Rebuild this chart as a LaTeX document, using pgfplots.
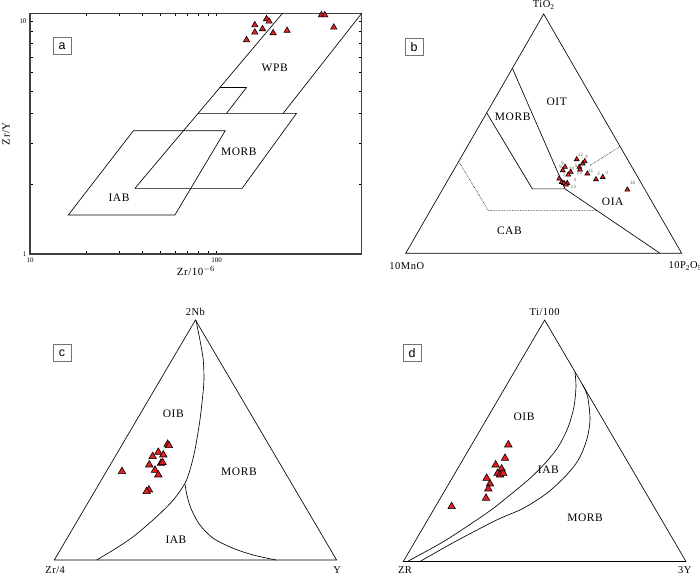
\documentclass[border=0pt]{standalone}
\usepackage{fontspec}
\setmainfont{Liberation Serif}
\setsansfont{Liberation Sans}
\newfontfamily\wide[LetterSpace=5]{Liberation Serif}
\usepackage{pgfplots}
\pgfplotsset{compat=1.18}
\definecolor{tri}{RGB}{226,32,36}
\pgfplotsset{
  tern/.style={scale only axis, hide axis, clip=false, anchor=south west,
    xmin=0, xmax=1, ymin=0, ymax=0.866},
  bnd/.style={black, line width=0.65pt, no marks},
  pts/.style={only marks, mark=triangle*, mark size=#1,
    mark options={fill=tri, draw=black, line width=0.6pt}},
}
\newcommand{\fld}{\wide\fontsize{11.5}{12}\selectfont}
\newcommand{\vtx}{\wide\fontsize{10.5}{12}\selectfont}
\begin{document}
\begin{tikzpicture}
\path[use as bounding box] (0bp,0bp) rectangle (700bp,-575bp);

% ---------------- panel a ----------------
\begin{axis}[at={(30bp,-254bp)}, anchor=south west, scale only axis,
  width=331.7bp, height=240.7bp,
  xmode=log, ymode=log, xmin=10, xmax=600, ymin=1, ymax=10.8,
  xtick={10,100}, xticklabels={10,100}, ytick={1,10}, yticklabels={1,10},
  minor xtick={}, minor ytick={},
  tick align=inside, major tick length=3bp,
  tick style={black, line width=0.6pt},
  axis line style={line width=1.1pt, black!75},
  /pgf/number format/assume math mode=true,
  ticklabel style={font=\fontsize{7}{8}\selectfont},
  xlabel={Zr/10$^{-6}$}, ylabel={Zr/Y},
  label style={font=\wide\fontsize{11}{12}\selectfont},
  xlabel style={yshift=3bp}, ylabel style={yshift=3bp},
  clip=false]
\addplot[bnd] coordinates {(36.5,1.914) (225.7,10.8)};
\addplot[bnd] coordinates {(36.5,1.914) (137.1,1.914) (268.3,4.016) (79.7,4.016)};
\addplot[bnd] coordinates {(227.5,4.016) (600,10.8)};
\addplot[bnd] coordinates {(104.2,5.19) (144.8,5.19) (113.1,4.016)};
\addplot[bnd] coordinates {(16.04,1.47) (59.8,1.47) (111.2,3.38) (35.8,3.38)} -- cycle;
\addplot[pts=3.6bp] table {
x y
144.8 8.30
160.4 9.62
160.4 8.95
176.3 9.25
185.3 10.21
191.3 9.98
201.0 8.89
238.8 9.10
365.0 10.62
380.0 10.62
425.0 9.40
};
\node[font=\fld] at (axis cs:205,6.27) {WPB};
\node[font=\fld] at (axis cs:131.6,2.75) {MORB};
\node[font=\fld] at (axis cs:30,1.75) {IAB};
\end{axis}
\node[draw=black!55, line width=0.6pt, minimum width=18bp, minimum height=16.5bp, inner sep=0pt,
  font=\sffamily\fontsize{12.5}{13}\selectfont] at (62bp,-46bp) {a};

% ---------------- panel b ----------------
\begin{axis}[tern, at={(405.7bp,-253.3bp)}, width=276bp, height=239.3bp]
\addplot[bnd] coordinates {(0,0) (1,0) (0.5,0.866)} -- cycle;
\addplot[bnd] coordinates {(0.3865,0.6695) (0.5773,0.2331)};
\addplot[bnd] coordinates {(0.2935,0.5084) (0.4589,0.2331) (0.5773,0.2331) (0.9215,0)};
\addplot[black, line width=0.6pt, densely dotted, no marks] coordinates {(0.192,0.3326) (0.2995,0.1546) (0.6932,0.1546)};
\addplot[black, line width=0.6pt, densely dotted, no marks] coordinates {(0.668,0.318) (0.7766,0.3866)};
\addplot[pts=2.8bp] table {
x y
0.6196 0.3400
0.6413 0.3245
0.6486 0.3328
0.5772 0.3122
0.5688 0.3002
0.6290 0.3122
0.5978 0.2941
0.5891 0.2846
0.6315 0.3027
0.6580 0.2883
0.6895 0.2676
0.7138 0.2759
0.5565 0.2701
0.5652 0.2578
0.5736 0.2542
0.5855 0.2542
0.5808 0.2484
0.8029 0.2303
};
\begin{scope}[every node/.style={font=\sffamily\fontsize{4.8}{5}\selectfont, text=black!55, inner sep=0pt}]
\node at (axis cs:0.634,0.3562) {12};
\node at (axis cs:0.6558,0.3478) {8};
\node at (axis cs:0.5688,0.3261) {6};
\node at (axis cs:0.5616,0.3116) {9};
\node at (axis cs:0.6014,0.3043) {10};
\node at (axis cs:0.6180,0.3180) {5};
\node at (axis cs:0.629,0.292) {15};
\node at (axis cs:0.6703,0.2993) {11};
\node at (axis cs:0.6993,0.2862) {2};
\node at (axis cs:0.7283,0.292) {3};
\node at (axis cs:0.5736,0.2837) {7};
\node at (axis cs:0.5529,0.2754) {1};
\node at (axis cs:0.6134,0.2656) {4};
\node at (axis cs:0.6073,0.2391) {13};
\node at (axis cs:0.8225,0.2536) {16};
\end{scope}
\node[font=\fld] at (axis cs:0.547,0.5495) {OIT};
\node[font=\fld] at (axis cs:0.3877,0.4928) {MORB};
\node[font=\fld] at (axis cs:0.75,0.187) {OIA};
\node[font=\fld] at (axis cs:0.3756,0.0821) {CAB};
\node[font=\vtx, above=1bp] at (axis cs:0.5,0.866) {TiO\textsubscript{2}};
\node[font=\vtx] at (axis cs:0.004,-0.046) {10MnO};
\node[font=\vtx, anchor=west] at (axis cs:0.94,-0.046) {10P\textsubscript{2}O\textsubscript{5}};
\end{axis}
\node[draw=black!55, line width=0.6pt, minimum width=18bp, minimum height=16.5bp, inner sep=0pt,
  font=\sffamily\fontsize{12.5}{13}\selectfont] at (414bp,-47bp) {b};

% ---------------- panel c ----------------
\begin{axis}[tern, at={(54.3bp,-560bp)}, width=282.3bp, height=240bp]
\addplot[bnd] coordinates {(0,0) (1,0) (0.5,0.866)} -- cycle;
\addplot[bnd, smooth] coordinates {(0.5018,0.866) (0.5041,0.854) (0.5159,0.7938) (0.5277,0.7217)
  (0.5301,0.6495) (0.5254,0.5894) (0.5159,0.5052) (0.4982,0.3969) (0.4805,0.3248)
  (0.4628,0.2766) (0.4215,0.2165) (0.3625,0.1564) (0.2798,0.0842) (0.209,0.0361) (0.15,0)};
\addplot[bnd, smooth] coordinates {(0.4628,0.2742) (0.4711,0.2285) (0.4864,0.1804) (0.5159,0.1263)
  (0.5632,0.0782) (0.634,0.0421) (0.7048,0.018) (0.7851,0)};
\addplot[pts=4.3bp] table {
x y
0.4014 0.4180
0.4061 0.4132
0.3684 0.3891
0.3483 0.3735
0.3861 0.3795
0.3365 0.3434
0.3778 0.3494
0.3837 0.3518
0.3566 0.3242
0.3684 0.3073
0.2397 0.3194
0.3353 0.2532
0.3270 0.2472
};
\node[font=\fld] at (axis cs:0.4215,0.5268) {OIB};
\node[font=\fld] at (axis cs:0.654,0.3187) {MORB};
\node[font=\fld] at (axis cs:0.4309,0.0746) {IAB};
\node[font=\vtx, above=1bp] at (axis cs:0.5,0.866) {2Nb};
\node[font=\vtx] at (axis cs:0.003,-0.036) {Zr/4};
\node[font=\vtx] at (axis cs:1.002,-0.036) {Y};
\end{axis}
\node[draw=black!55, line width=0.6pt, minimum width=18bp, minimum height=16.5bp, inner sep=0pt,
  font=\sffamily\fontsize{12.5}{13}\selectfont] at (62bp,-353bp) {c};

% ---------------- panel d ----------------
\begin{axis}[tern, at={(403.3bp,-561.5bp)}, width=282.7bp, height=241.5bp]
\addplot[bnd] coordinates {(0,0) (1,0) (0.5,0.866)} -- cycle;
\addplot[bnd, smooth] coordinates {(0.6073,0.6802) (0.6108,0.627) (0.6038,0.5552) (0.5837,0.4835)
  (0.5483,0.4118) (0.5012,0.352) (0.4481,0.2982) (0.3774,0.2385) (0.3184,0.1907)
  (0.2594,0.1488) (0.1415,0.0711) (0.0142,0)};
\addplot[bnd, smooth] coordinates {(0.6344,0.6331) (0.6521,0.5911) (0.6604,0.5074) (0.6486,0.4357)
  (0.6191,0.364) (0.5719,0.3042) (0.5071,0.2444) (0.4245,0.1907) (0.3302,0.1488)
  (0.1828,0.0711) (0.059,0)};
\addplot[pts=4.3bp] table {
x y
0.3715 0.4184
0.3597 0.3705
0.3267 0.3466
0.3479 0.3323
0.3337 0.3167
0.3420 0.3107
0.3538 0.3167
0.2948 0.2988
0.3066 0.2785
0.3007 0.2606
0.2925 0.2271
0.1710 0.1972
};
\node[font=\fld] at (axis cs:0.4269,0.5193) {OIB};
\node[font=\fld] at (axis cs:0.513,0.3281) {IAB};
\node[font=\fld] at (axis cs:0.6427,0.1584) {MORB};
\node[font=\vtx, above=1bp] at (axis cs:0.5,0.866) {Ti/100};
\node[font=\vtx] at (axis cs:0.006,-0.031) {ZR};
\node[font=\vtx] at (axis cs:0.996,-0.031) {3Y};
\end{axis}
\node[draw=black!55, line width=0.6pt, minimum width=18bp, minimum height=16.5bp, inner sep=0pt,
  font=\sffamily\fontsize{12.5}{13}\selectfont] at (412bp,-353bp) {d};
\end{tikzpicture}
\end{document}
